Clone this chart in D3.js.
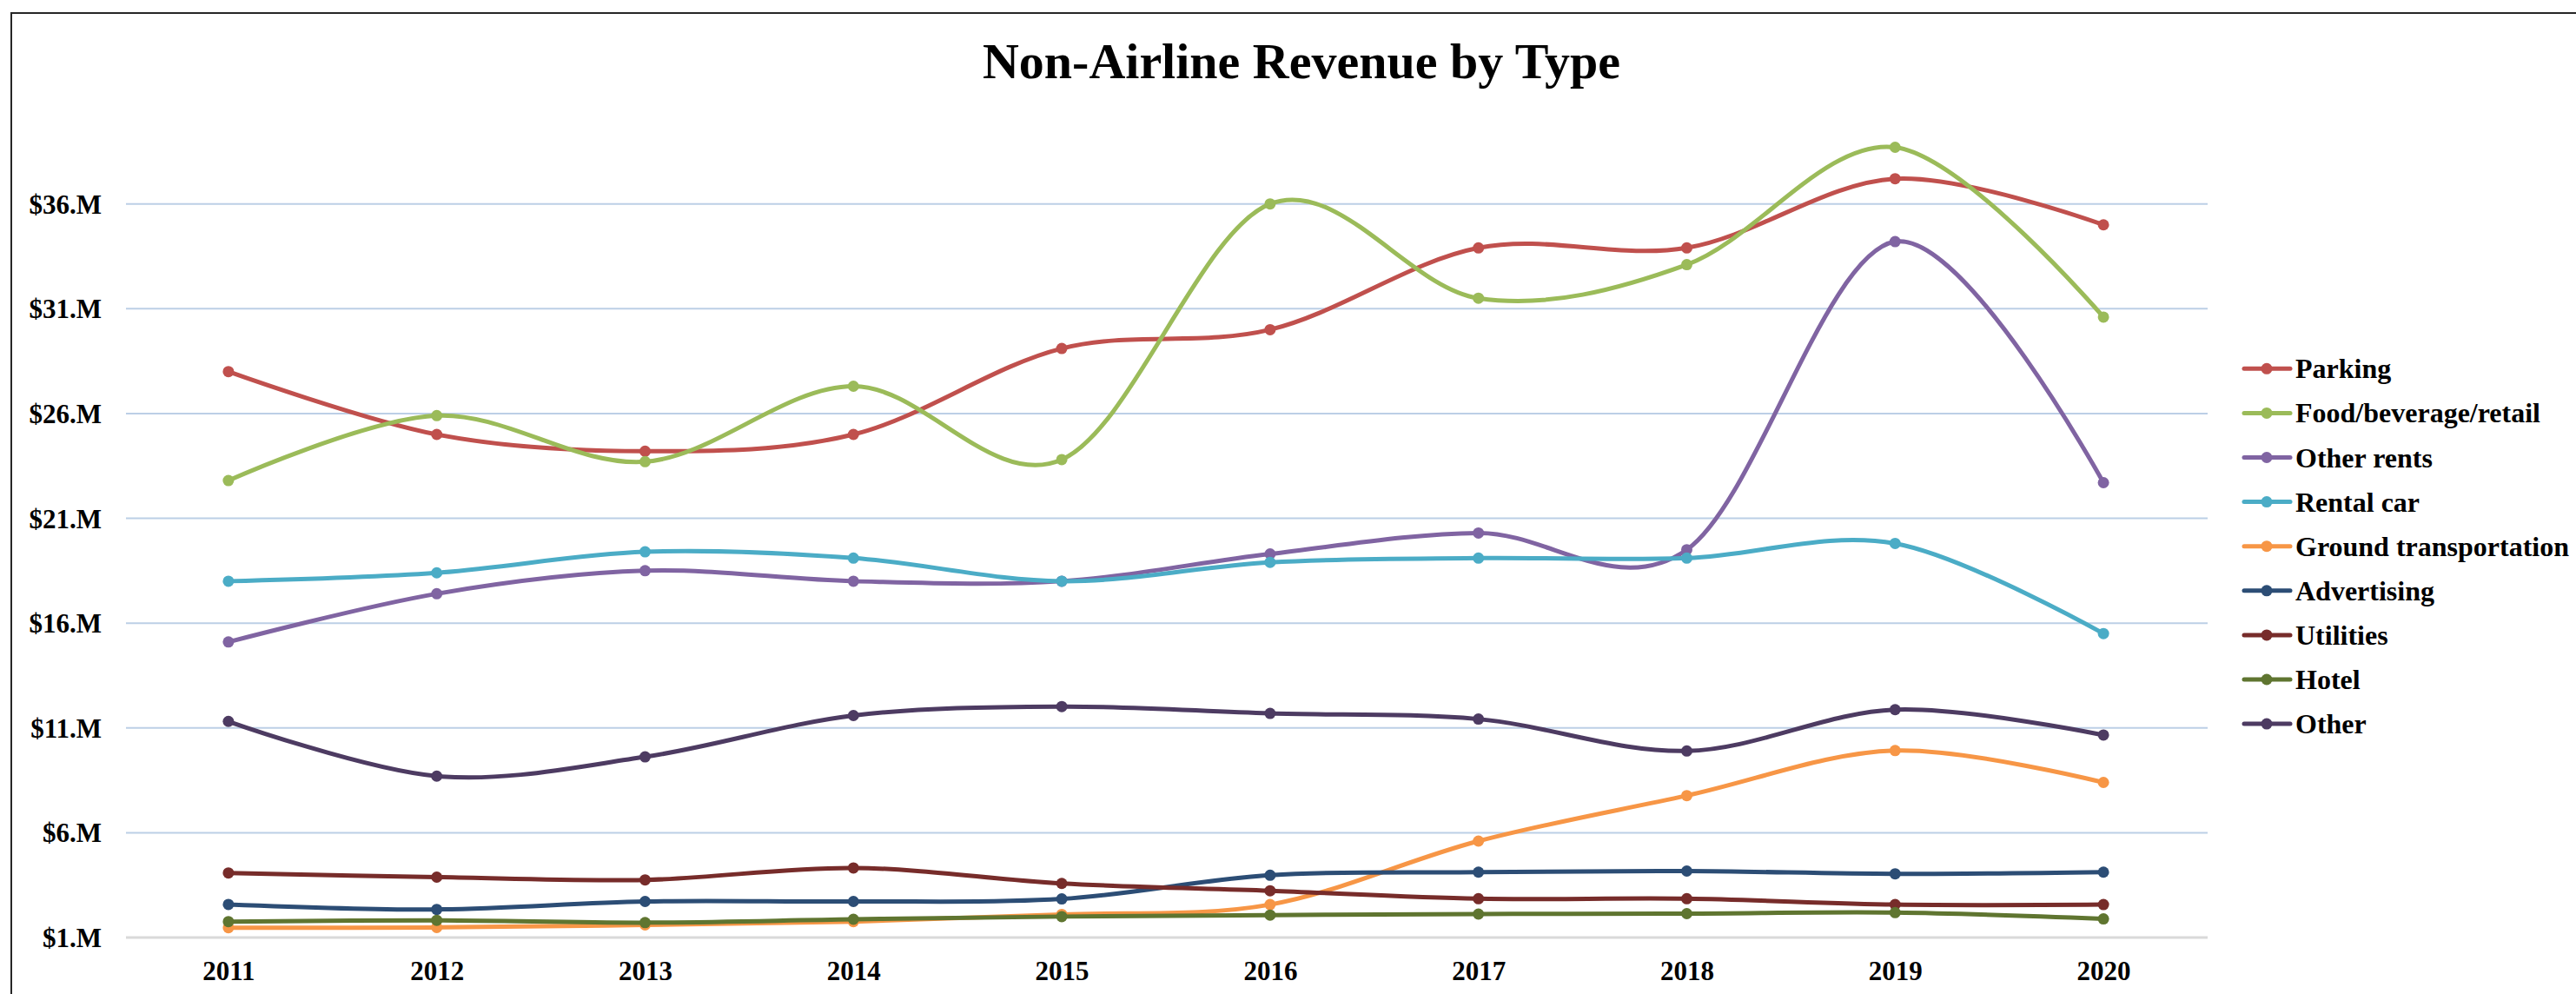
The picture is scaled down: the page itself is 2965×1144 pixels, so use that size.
<!DOCTYPE html>
<html>
<head>
<meta charset="utf-8">
<title>Non-Airline Revenue by Type</title>
<script src="https://cdn.jsdelivr.net/npm/d3@7"></script>
<style>
  html, body { margin: 0; padding: 0; background: #ffffff; }
  svg { display: block; }
  text { font-family: "Liberation Serif", "Times New Roman", serif; font-weight: bold; fill: #000; }
</style>
</head>
<body>
<svg id="chart" width="2965" height="1144"></svg>
<script>
// Years on the category axis
const years = ["2011", "2012", "2013", "2014", "2015", "2016", "2017", "2018", "2019", "2020"];

// Revenue by type, in millions of dollars
const parking     = [28.0, 25.0, 24.2, 25.0, 29.1, 30.0, 33.9, 33.9, 37.2, 35.0];
const foodBevRet  = [22.8, 25.9, 23.7, 27.3, 23.8, 36.0, 31.5, 33.1, 38.7, 30.6];
const otherRents  = [15.1, 17.4, 18.5, 18.0, 18.0, 19.3, 20.3, 19.5, 34.2, 22.7];
const rentalCar   = [18.0, 18.4, 19.4, 19.1, 18.0, 18.9, 19.1, 19.1, 19.8, 15.5];
const groundTrans = [1.47, 1.48, 1.60, 1.76, 2.10, 2.57, 5.60, 7.77, 9.92, 8.40];
const advertising = [2.58, 2.34, 2.72, 2.72, 2.84, 3.97, 4.12, 4.17, 4.04, 4.12];
const utilities   = [4.08, 3.88, 3.75, 4.32, 3.58, 3.23, 2.85, 2.85, 2.57, 2.57];
const hotel       = [1.76, 1.82, 1.71, 1.87, 2.00, 2.07, 2.12, 2.14, 2.19, 1.89];
const other       = [11.31, 8.70, 9.62, 11.59, 12.02, 11.69, 11.42, 9.90, 11.87, 10.66];

// Series names and colours, in drawing / legend order
const seriesNames  = ["Parking", "Food/beverage/retail", "Other rents", "Rental car",
                      "Ground transportation", "Advertising", "Utilities", "Hotel", "Other"];
const seriesValues = [parking, foodBevRet, otherRents, rentalCar, groundTrans,
                      advertising, utilities, hotel, other];
const seriesColors = ["#C0504D", "#9BBB59", "#8064A2", "#4BACC6", "#F79646",
                      "#2C4D75", "#772C2A", "#5F7530", "#4D3B62"];

// Value axis ticks and their labels
const yTicks      = [1, 6, 11, 16, 21, 26, 31, 36];
const yTickLabels = ["$1.M", "$6.M", "$11.M", "$16.M", "$21.M", "$26.M", "$31.M", "$36.M"];

const chartTitle = "Non-Airline Revenue by Type";

const svg = d3.select("#chart");

// Chart frame (top and left edges visible)
svg.append("rect")
  .attr("x", 13).attr("y", 15)
  .attr("width", 3100).attr("height", 1300)
  .attr("fill", "none")
  .attr("stroke", "#262626")
  .attr("stroke-width", 2);

const plot = { left: 143, right: 2541, top: 114, bottom: 1079 };

const x = d3.scalePoint()
  .domain(years)
  .range([plot.left, plot.right])
  .padding(0.5);

const y = d3.scaleLinear()
  .domain([1, 41])
  .range([plot.bottom, plot.top]);

// Title
svg.append("text")
  .attr("x", 1498)
  .attr("y", 90)
  .attr("text-anchor", "middle")
  .style("font-size", "58px")
  .text(chartTitle);

// Horizontal gridlines
const grid = svg.append("g").attr("class", "grid");
grid.selectAll("line")
  .data(yTicks.filter(v => v !== 1))
  .join("line")
  .attr("x1", plot.left + 2).attr("x2", plot.right)
  .attr("y1", d => y(d)).attr("y2", d => y(d))
  .attr("stroke", "#BCCFE6")
  .attr("stroke-width", 2);

// Category axis line
svg.append("line")
  .attr("x1", plot.left + 2).attr("x2", plot.right)
  .attr("y1", y(1)).attr("y2", y(1))
  .attr("stroke", "#D9D9D9")
  .attr("stroke-width", 3);

// Value axis labels
const yAxis = d3.axisLeft(y)
  .tickValues(yTicks)
  .tickSize(0)
  .tickPadding(0)
  .tickFormat((d, i) => yTickLabels[i]);

const yAxisG = svg.append("g")
  .attr("transform", "translate(117,0)")
  .call(yAxis);
yAxisG.select(".domain").remove();
yAxisG.selectAll("text")
  .attr("dy", null)
  .attr("dominant-baseline", "central")
  .attr("font-family", null)
  .attr("font-size", null)
  .style("font-size", "31px");

// Category axis labels
const xAxis = d3.axisBottom(x).tickSize(0).tickPadding(0);
const xAxisG = svg.append("g")
  .attr("transform", "translate(0,1128)")
  .call(xAxis);
xAxisG.select(".domain").remove();
xAxisG.selectAll("text")
  .attr("y", 0)
  .attr("dy", null)
  .attr("font-family", null)
  .attr("font-size", null)
  .style("font-size", "31px");

// Smoothed series lines with circle markers
const line = d3.line()
  .x((d, i) => x(years[i]))
  .y(d => y(d))
  .curve(d3.curveCardinal.tension(0));

const seriesG = svg.append("g").attr("class", "series");
seriesNames.forEach((name, s) => {
  const g = seriesG.append("g");
  g.append("path")
    .datum(seriesValues[s])
    .attr("d", line)
    .attr("fill", "none")
    .attr("stroke", seriesColors[s])
    .attr("stroke-width", 5)
    .attr("stroke-linejoin", "round")
    .attr("stroke-linecap", "round");
  g.selectAll("circle")
    .data(seriesValues[s])
    .join("circle")
    .attr("cx", (d, i) => x(years[i]))
    .attr("cy", d => y(d))
    .attr("r", 6.5)
    .attr("fill", seriesColors[s]);
});

// Legend
const legend = svg.append("g").attr("class", "legend");
const legendRows = legend.selectAll("g")
  .data(seriesNames)
  .join("g")
  .attr("transform", (d, i) => `translate(0,${424.3 + i * 51.1})`);
legendRows.append("line")
  .attr("x1", 2583).attr("x2", 2636)
  .attr("y1", 0).attr("y2", 0)
  .attr("stroke", (d, i) => seriesColors[i])
  .attr("stroke-width", 5)
  .attr("stroke-linecap", "round");
legendRows.append("circle")
  .attr("cx", 2609).attr("cy", 0)
  .attr("r", 6.5)
  .attr("fill", (d, i) => seriesColors[i]);
legendRows.append("text")
  .attr("x", 2642)
  .attr("y", 11)
  .style("font-size", "32px")
  .text(d => d);
</script>
</body>
</html>
